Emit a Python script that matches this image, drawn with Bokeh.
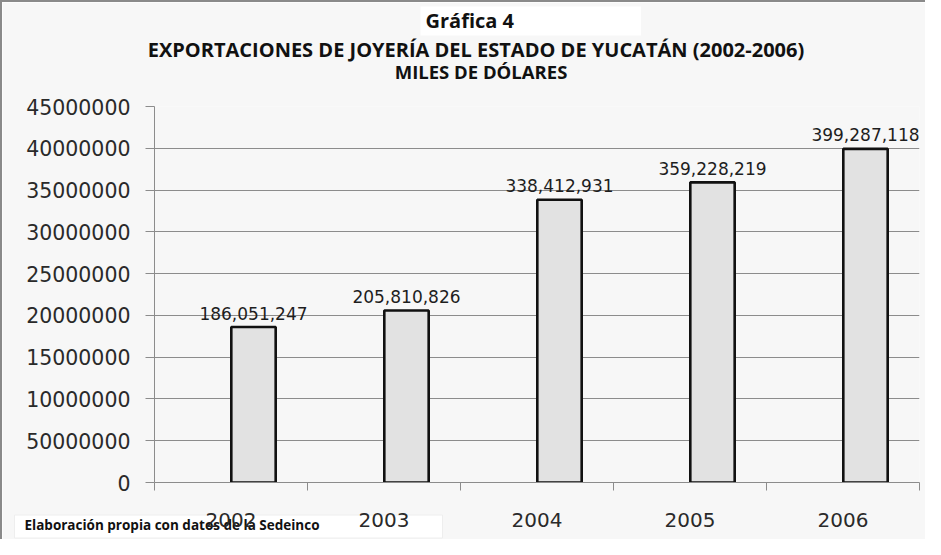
from bokeh.plotting import figure
from bokeh.models import Range1d, FixedTicker, Label, ColumnDataSource
from bokeh.core.properties import value
from bokeh.embed import file_html
from bokeh.resources import INLINE

years = ["2002", "2003", "2004", "2005", "2006"]
exports = [186051247, 205810826, 338412931, 359228219, 399287118]
y_ticks = [0, 5000000, 10000000, 15000000, 20000000, 25000000, 30000000, 35000000, 40000000, 45000000]
y_tick_labels = ["0", "50000000", "10000000", "15000000", "20000000", "25000000",
                 "30000000", "35000000", "40000000", "45000000"]
title_top = "Gráfica 4"
title_main = "EXPORTACIONES DE JOYERÍA DEL ESTADO DE YUCATÁN (2002-2006)"
title_sub = "MILES DE DÓLARES"
footnote = "Elaboración propia con datos de la Sedeinco"

W, H = 925, 539
BG = "#f7f7f7"
MB_L, MB_R, MB_T, MB_B = 152, 8, 102, 59

idx = list(range(len(years)))
centers = [i + 0.5 for i in idx]
bar_x = [c + 0.147 for c in centers]
heights = [v / 10 for v in exports]
labels = [f"{v:,}" for v in exports]
src = ColumnDataSource(dict(x=bar_x, top=heights, label=labels))

p = figure(width=W, height=H, output_backend="svg", toolbar_location=None,
           x_range=Range1d(0, len(years)), y_range=Range1d(0, 45000000),
           background_fill_color=BG, border_fill_color=BG,
           min_border_left=MB_L, min_border_right=MB_R, min_border_top=MB_T,
           min_border_bottom=MB_B)
p.outline_line_color = None
p.styles = {"border-left": "2px solid #8a8a8a", "border-top": "2px solid #8a8a8a",
            "box-sizing": "border-box"}

p.vbar(x="x", top="top", width=0.29, bottom=0, source=src,
       fill_color="#e2e2e2", line_color="#111111", line_width=2.6)

p.text(x="x", y="top", text="label", source=src, text_align="center",
       text_baseline="alphabetic", y_offset=-14, text_font=value("DejaVu Sans"),
       text_font_size="17px", text_color="#1e1e1e")

# axes
p.yaxis.ticker = FixedTicker(ticks=y_ticks)
p.yaxis.major_label_overrides = {t: l for t, l in zip(y_ticks, y_tick_labels)}
p.yaxis.minor_tick_line_color = None
p.yaxis.major_tick_in = 0
p.yaxis.major_tick_out = 9
p.yaxis.major_tick_line_color = "#8c8c8c"
p.yaxis.axis_line_color = "#8c8c8c"
p.yaxis.major_label_text_font = "DejaVu Sans"
p.yaxis.major_label_text_font_size = "20.5px"
p.yaxis.major_label_text_color = "#2a2a2a"
p.yaxis.major_label_standoff = 15

p.xaxis.ticker = FixedTicker(ticks=centers, minor_ticks=[float(i) for i in range(len(years) + 1)])
p.xaxis.major_label_overrides = {c: y for c, y in zip(centers, years)}
p.xaxis.major_tick_line_color = None
p.xaxis.major_tick_in = 0
p.xaxis.major_tick_out = 0
p.xaxis.minor_tick_in = 0
p.xaxis.minor_tick_out = 8
p.xaxis.minor_tick_line_color = "#8c8c8c"
p.xaxis.axis_line_color = "#8c8c8c"
p.xaxis.major_label_text_font = "DejaVu Sans"
p.xaxis.major_label_text_font_size = "20px"
p.xaxis.major_label_text_color = "#2a2a2a"
p.xaxis.major_label_standoff = 22

p.xgrid.grid_line_color = None
p.ygrid.grid_line_color = "#8c8c8c"
p.ygrid.grid_line_width = 1

# titles and footnote, stacked in the top panel (first added is nearest the plot)
p.add_layout(Label(x=266, y=100, x_units="screen", y_units="screen", text=title_top,
                   text_font="Open Sans", text_font_style="bold", text_font_size="20px",
                   text_color="#111111", text_baseline="top",
                   background_fill_color="white",
                   padding=dict(left=5, right=127, top=0, bottom=2)), "above")
p.add_layout(Label(x=321.5, y=41.6, x_units="screen", y_units="screen", text=title_main,
                   text_font="Open Sans", text_font_style="bold", text_font_size="20px",
                   text_color="#111111", text_align="center", text_baseline="top"), "above")
p.add_layout(Label(x=326.5, y=-8.3, x_units="screen", y_units="screen", text=title_sub,
                   text_font="Open Sans", text_font_style="bold", text_font_size="18.5px",
                   text_color="#111111", text_align="center", text_baseline="top"), "above")
p.add_layout(Label(x=-140, y=-489.5, x_units="screen", y_units="screen", text=footnote,
                   text_font="Open Sans", text_font_style="bold", text_font_size="13.5px",
                   text_color="#111111", text_baseline="top", level="guide",
                   background_fill_color="white", border_line_color="#eeeeee",
                   padding=dict(left=10, right=123, top=1, bottom=4)), "above")

open("out.html", "w").write(file_html(p, INLINE))
